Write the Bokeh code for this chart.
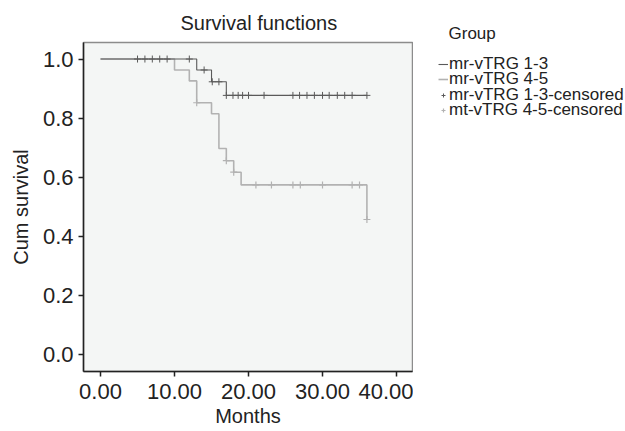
from bokeh.plotting import figure
from bokeh.layouts import row
from bokeh.models import Range1d, FixedTicker, NumeralTickFormatter, Legend, LegendItem
from bokeh.embed import file_html
from bokeh.resources import INLINE

# ---- data ----
months_13 = [0, 13, 15, 17, 36]
surv_13 = [1.0, 0.963, 0.923, 0.877, 0.877]

months_45 = [0, 10, 12, 13, 15, 16, 17, 18, 19, 36]
surv_45 = [1.0, 0.963, 0.926, 0.852, 0.815, 0.697, 0.656, 0.617, 0.574, 0.457]

cens_13_t = [5, 6, 7, 8, 9, 12, 14, 15.1, 16,
             17, 17.9, 18.6, 19.2, 20, 22.1, 26, 26.9, 27.9, 28.9, 30, 30.9, 32, 33, 34, 36]
cens_13_s = [1.0, 1.0, 1.0, 1.0, 1.0, 1.0, 0.963, 0.923, 0.923,
             0.877, 0.877, 0.877, 0.877, 0.877, 0.877, 0.877, 0.877, 0.877, 0.877, 0.877,
             0.877, 0.877, 0.877, 0.877, 0.877]

cens_45_t = [13, 17, 18, 21, 23.1, 26, 27, 30, 34, 35, 36]
cens_45_s = [0.852, 0.656, 0.617, 0.574, 0.574, 0.574, 0.574, 0.574, 0.574, 0.574, 0.457]

x_ticks = [0, 10, 20, 30, 40]
y_ticks = [0.0, 0.2, 0.4, 0.6, 0.8, 1.0]

legend_title = "Group"
labels = ["mr-vTRG 1-3", "mr-vTRG 4-5", "mr-vTRG 1-3-censored", "mt-vTRG 4-5-censored"]

FONT = "Liberation Sans"
TXT = "#222222"
DARK = "#5a5a5a"
LIGHT = "#b2b2b2"
H = 430

p = figure(width=413, height=H, output_backend="svg", toolbar_location=None,
           x_range=Range1d(-2.3, 42.16), y_range=Range1d(-0.0575, 1.056),
           min_border_left=83, min_border_right=1, min_border_top=42, min_border_bottom=59)

p.background_fill_color = "#f4f6f5"
p.border_fill_color = "white"
p.outline_line_color = "#8c8c8c"
p.outline_line_width = 1.5
p.grid.visible = False

p.title.text = "Survival functions"
p.title.align = "left"
p.title.offset = 97
p.title.standoff = 17
p.title.text_font = FONT
p.title.text_font_size = "20px"
p.title.text_font_style = "normal"
p.title.text_color = TXT

def draw_series(fig):
    a = fig.step(months_45, surv_45, mode="after", line_color=LIGHT, line_width=1.6)
    b = fig.step(months_13, surv_13, mode="after", line_color=DARK, line_width=1.1)
    c = fig.scatter(cens_13_t, cens_13_s, marker="cross", size=7, line_color=DARK, line_width=1)
    d = fig.scatter(cens_45_t, cens_45_s, marker="cross", size=7, line_color=LIGHT, line_width=1.2)
    return b, a, c, d

draw_series(p)

for ax in (p.xaxis[0], p.yaxis[0]):
    ax.axis_line_color = TXT
    ax.axis_line_width = 1.5
    ax.major_tick_line_color = TXT
    ax.major_tick_line_width = 1.5
    ax.major_tick_out = 5
    ax.major_tick_in = 0
    ax.minor_tick_line_color = None
    ax.major_label_text_font = FONT
    ax.major_label_text_font_size = "22px"
    ax.major_label_text_color = TXT
    ax.axis_label_text_font = FONT
    ax.axis_label_text_font_size = "20px"
    ax.axis_label_text_font_style = "normal"
    ax.axis_label_text_color = TXT

p.xaxis.ticker = FixedTicker(ticks=x_ticks)
p.xaxis.formatter = NumeralTickFormatter(format="0.00")
p.xaxis.axis_label = "Months"
p.xaxis.major_label_standoff = 7
p.xaxis.axis_label_standoff = 3

p.yaxis.ticker = FixedTicker(ticks=y_ticks)
p.yaxis.formatter = NumeralTickFormatter(format="0.0")
p.yaxis.axis_label = "Cum survival"
p.yaxis.major_label_standoff = 5
p.yaxis.axis_label_standoff = 8

# ---- legend panel (same series, ranges placed so the marks stay out of view) ----
lg = figure(width=211, height=H, output_backend="svg", toolbar_location=None,
            x_range=Range1d(100, 101), y_range=Range1d(100, 101),
            x_axis_type=None, y_axis_type=None, min_border=0, min_border_top=42)
lg.title.text = legend_title
lg.title.align = "left"
lg.title.offset = 35
lg.title.standoff = 0
lg.title.text_font = FONT
lg.title.text_font_size = "17px"
lg.title.text_font_style = "normal"
lg.title.text_color = TXT
lg.grid.visible = False
lg.outline_line_color = None
lg.background_fill_color = "white"
lg.border_fill_color = "white"
rs = draw_series(lg)

legend_y = [297, 282, 266, 251]
common = dict(label_text_font=FONT, label_text_font_size="17px", label_text_color=TXT,
              glyph_width=10, glyph_height=20, label_height=12, label_standoff=1,
              spacing=0, padding=4, margin=0,
              border_line_color=None, background_fill_alpha=0)
for i, (lab, r) in enumerate(zip(labels, rs)):
    lg.add_layout(Legend(items=[LegendItem(label=lab, renderers=[r])],
                         location=(25, legend_y[i]), **common))

open("out.html", "w").write(file_html(row(p, lg), INLINE))
